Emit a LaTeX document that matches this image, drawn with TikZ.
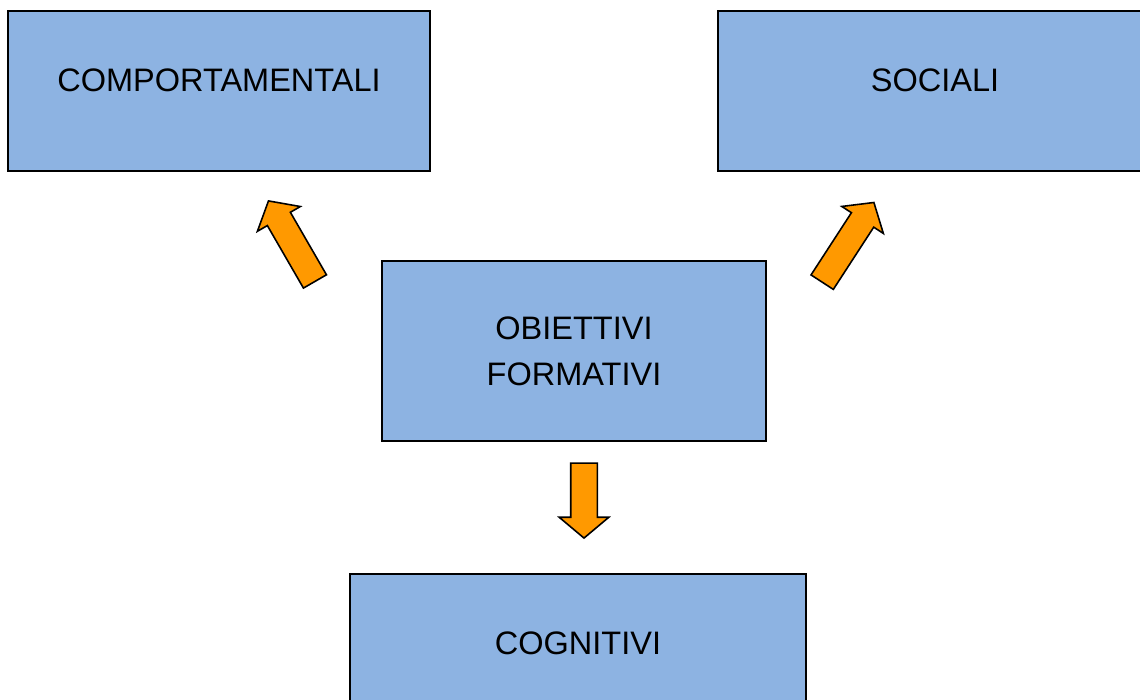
\documentclass[tikz,border=0pt]{standalone}
\usepackage{fontspec}
\setmainfont{Liberation Sans}
\usetikzlibrary{shapes.arrows, positioning}
\definecolor{boxblue}{RGB}{141, 179, 226}
\definecolor{arroworange}{RGB}{255, 153, 0}
\tikzset{
  goalbox/.style={rectangle, draw=black, line width=1pt, fill=boxblue,
              minimum width=#1, align=center, font=\fontsize{18.5}{26}\selectfont,
              inner sep=0pt},
  goalbox/.default=8.44cm,
  fatarrow/.style={single arrow, draw=black, line width=0.9pt, fill=arroworange,
              minimum width=0.96cm, minimum height=#1, inner sep=0.25cm,
              single arrow head extend=0.23cm, single arrow tip angle=100},
  fatarrow/.default=1.86cm,
}
\begin{document}
\begin{tikzpicture}[x=0.02cm, y=-0.02cm]
  \useasboundingbox (0,0) rectangle (1140,700);
  \clip (0,0) rectangle (1140,700);
  % Boxes
  \node[goalbox, minimum height=3.2cm, text depth=0.44cm] (comp) at (219,91) {COMPORTAMENTALI};
  \node[goalbox=8.68cm, minimum height=3.2cm, text depth=0.44cm] (soc) at (935,91) {SOCIALI};
  \node[goalbox=7.68cm, minimum height=3.6cm] (obj) at (574,351) {OBIETTIVI\\FORMATIVI};
  \node[goalbox=9.12cm, minimum height=2.76cm] (cogn) at (578,643) {COGNITIVI};
  % Arrows
  \node[fatarrow, rotate=120] (upleft) at (294.5,246) {};
  \node[fatarrow=1.9cm, rotate=57] (upright) at (845,247) {};
  \node[fatarrow=1.5cm, rotate=-90] (down) at (584,495) {};
\end{tikzpicture}
\end{document}
